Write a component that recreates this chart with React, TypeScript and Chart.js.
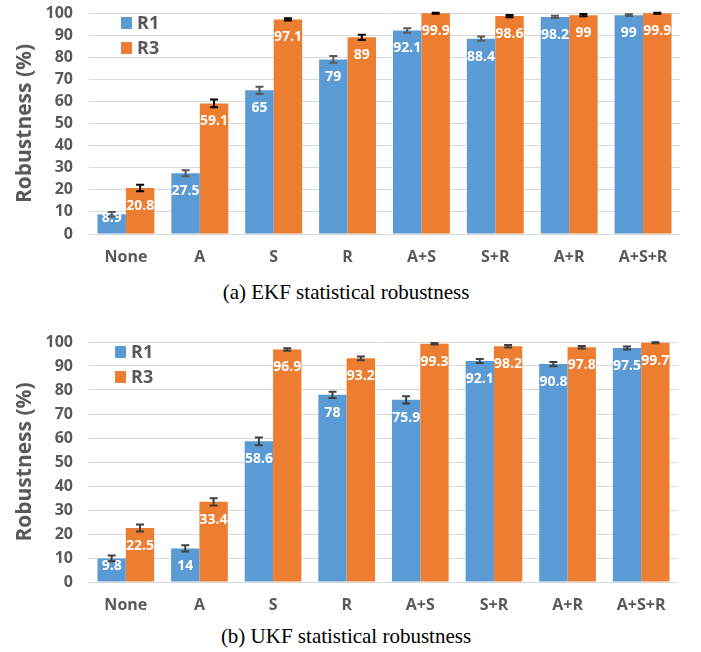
import React, { useEffect, useRef } from "react";
import { Chart, registerables } from "chart.js";

Chart.register(...registerables);

const categories = ["None", "A", "S", "R", "A+S", "S+R", "A+R", "A+S+R"];
const seriesNames = ["R1", "R3"];
const yTicksMax = 100;

const ekfR1 = [8.9, 27.5, 65, 79, 92.1, 88.4, 98.2, 99];
const ekfR3 = [20.8, 59.1, 97.1, 89, 99.9, 98.6, 99, 99.9];
const ekfR1Err = [1.0, 1.4, 1.6, 1.5, 1.0, 1.0, 0.5, 0.4];
const ekfR3Err = [1.5, 1.8, 0.5, 1.2, 0.2, 0.5, 0.5, 0.2];

const ukfR1 = [9.8, 14, 58.6, 78, 75.9, 92.1, 90.8, 97.5];
const ukfR3 = [22.5, 33.4, 96.9, 93.2, 99.3, 98.2, 97.8, 99.7];
const ukfR1Err = [1.2, 1.3, 1.6, 1.3, 1.5, 0.8, 0.9, 0.6];
const ukfR3Err = [1.5, 1.5, 0.5, 0.8, 0.3, 0.5, 0.5, 0.2];

const BLUE = "#5B9BD5";
const ORANGE = "#ED7D31";
const GRAY = "#595959";
const FONT = "'Open Sans', 'DejaVu Sans', sans-serif";

const extrasPlugin = {
  id: "barExtras",
  afterDatasetsDraw(chart: any, _args: any, opts: any) {
    const ctx = chart.ctx;
    const y = chart.scales.y;
    const area = chart.chartArea;
    ctx.save();
    // data labels
    chart.data.datasets.forEach((ds: any, i: number) => {
      const meta = chart.getDatasetMeta(i);
      meta.data.forEach((bar: any, j: number) => {
        const v = ds.data[j];
        ctx.fillStyle = "#ffffff";
        ctx.font = `bold 14px ${FONT}`;
        ctx.textAlign = "center";
        ctx.textBaseline = "middle";
        const ly = Math.min(bar.y + 18, bar.base - 15);
        ctx.fillText(String(v), bar.x, ly);
      });
    });
    // error bars
    chart.data.datasets.forEach((ds: any, i: number) => {
      const meta = chart.getDatasetMeta(i);
      const errs = opts.errors[i];
      ctx.strokeStyle = opts.errColors[i];
      ctx.lineWidth = 2;
      meta.data.forEach((bar: any, j: number) => {
        const v = ds.data[j];
        const e = errs[j];
        const yt = y.getPixelForValue(Math.min(v + e, 100.3));
        const yb = y.getPixelForValue(v - e);
        const x = bar.x;
        ctx.beginPath();
        ctx.moveTo(x, yt);
        ctx.lineTo(x, yb);
        ctx.moveTo(x - 4, yt);
        ctx.lineTo(x + 4, yt);
        ctx.moveTo(x - 4, yb);
        ctx.lineTo(x + 4, yb);
        ctx.stroke();
      });
    });
    // legend
    const lg = opts.legend;
    chart.data.datasets.forEach((ds: any, i: number) => {
      const cy = area.top + lg.dy + i * lg.gap;
      const sx = area.left + lg.dx;
      ctx.fillStyle = ds.backgroundColor;
      ctx.fillRect(sx, cy - 6, 11, 12);
      ctx.fillStyle = GRAY;
      ctx.font = `bold 18px ${FONT}`;
      ctx.textAlign = "left";
      ctx.textBaseline = "middle";
      ctx.fillText(ds.label, sx + 16, cy + 1);
    });
    ctx.restore();
  },
};

function BarChart(props: {
  r1: number[];
  r3: number[];
  e1: number[];
  e3: number[];
  errColors: string[];
  height: number;
  legendDx: number;
  padRight: number;
}) {
  const ref = useRef<HTMLCanvasElement | null>(null);
  useEffect(() => {
    if (!ref.current) return;
    const chart = new Chart(ref.current, {
      type: "bar",
      data: {
        labels: categories,
        datasets: [
          { label: seriesNames[0], data: props.r1, backgroundColor: BLUE },
          { label: seriesNames[1], data: props.r3, backgroundColor: ORANGE },
        ],
      },
      plugins: [extrasPlugin],
      options: {
        animation: false,
        responsive: false,
        maintainAspectRatio: false,
        layout: { padding: { top: 13, right: props.padRight, left: 0, bottom: 0 } },
        datasets: { bar: { categoryPercentage: 0.77, barPercentage: 1.0 } },
        plugins: {
          legend: { display: false },
          tooltip: { enabled: false },
          barExtras: {
            errors: [props.e1, props.e3],
            errColors: props.errColors,
            legend: { dx: props.legendDx, dy: 10, gap: 25 },
          },
        } as any,
        scales: {
          x: {
            grid: { display: false, drawTicks: false },
            border: { display: false },
            ticks: { font: { family: FONT, weight: "bold", size: 16 }, color: GRAY, padding: 14 },
            afterFit: (s: any) => {
              s.height = 41;
              s.paddingLeft = 0;
              s.paddingRight = 0;
            },
          },
          y: {
            min: 0,
            max: yTicksMax,
            grid: { color: "#D9D9D9", drawTicks: false, lineWidth: 1 },
            border: { display: false },
            ticks: {
              stepSize: 10,
              autoSkip: false,
              font: { family: FONT, weight: "bold", size: 16 },
              color: GRAY,
              padding: 16,
            },
            title: {
              display: true,
              text: "Robustness (%)",
              font: { family: FONT, weight: "bold", size: 21 },
              color: GRAY,
              padding: { top: 12, bottom: 0 },
            },
            afterFit: (s: any) => {
              s.width = 89;
              s.paddingTop = 0;
              s.paddingBottom = 0;
            },
          },
        },
      } as any,
    });
    return () => chart.destroy();
  }, []);
  return <canvas ref={ref} width={701} height={props.height} style={{ display: "block", width: 701, height: props.height }} />;
}

const captionStyle: React.CSSProperties = {
  position: "absolute",
  left: 0,
  width: 692,
  textAlign: "center",
  fontFamily: "'Liberation Serif', 'Times New Roman', serif",
  fontSize: 21,
  lineHeight: "22px",
  color: "#000",
};

export default function App() {
  return (
    <div style={{ position: "absolute", left: 0, top: 0, width: 701, height: 652, background: "#fff" }}>
      <div style={{ position: "absolute", left: 0, top: 0 }}>
        <BarChart r1={ekfR1} r3={ekfR3} e1={ekfR1Err} e3={ekfR3Err} errColors={["#595959", "#000000"]} height={275} legendDx={32} padRight={21} />
      </div>
      <div style={{ ...captionStyle, top: 281 }}>(a) EKF statistical robustness</div>
      <div style={{ position: "absolute", left: 0, top: 329 }}>
        <BarChart r1={ukfR1} r3={ukfR3} e1={ukfR1Err} e3={ukfR3Err} errColors={["#404040", "#404040"]} height={294} legendDx={26} padRight={23} />
      </div>
      <div style={{ ...captionStyle, top: 625 }}>(b) UKF statistical robustness</div>
    </div>
  );
}
